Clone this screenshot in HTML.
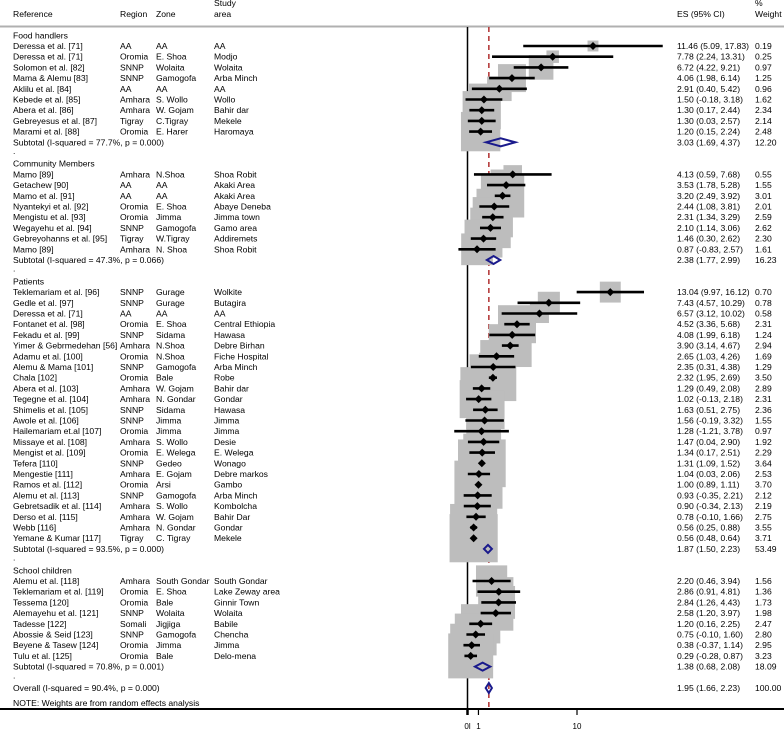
<!DOCTYPE html>
<html><head><meta charset="utf-8"><style>
html,body{margin:0;padding:0;background:#fff;}
svg{display:block;font-family:"Liberation Sans",Arial,sans-serif;font-size:8.6px;}
</style></head><body>
<svg id="plot" width="784" height="731" viewBox="0 0 784 731" xmlns="http://www.w3.org/2000/svg">
<g fill="#000">
<text x="13" y="17">Reference</text>
<text x="120" y="17">Region</text>
<text x="156" y="17">Zone</text>
<text x="214" y="6">Study</text>
<text x="214" y="17">area</text>
<text x="677" y="17">ES (95% CI)</text>
<text x="755" y="6">%</text>
<text x="755" y="17">Weight</text>
</g>
<rect x="0" y="25.5" width="784" height="2" fill="#b0b0b0"/>
<g id="refs"></g>
<g id="boxes"></g>
<g id="marks"></g>
<g id="labels"></g>
<g id="axis"></g>
</svg>
<script>
const NS="http://www.w3.org/2000/svg";
const foodRefs=[["Deressa et al. [71]","AA","AA","AA"],["Deressa et al. [71]","Oromia","E. Shoa","Modjo"],["Solomon et al. [82]","SNNP","Wolaita","Wolaita"],["Mama & Alemu [83]","SNNP","Gamogofa","Arba Minch"],["Aklilu et al. [84]","AA","AA","AA"],["Kebede et al. [85]","Amhara","S. Wollo","Wollo"],["Abera et al. [86]","Amhara","W. Gojam","Bahir dar"],["Gebreyesus et al. [87]","Tigray","C.Tigray","Mekele"],["Marami et al. [88]","Oromia","E. Harer","Haromaya"]];
const foodES=[11.46,7.78,6.72,4.06,2.91,1.50,1.30,1.30,1.20];
const foodLo=[5.09,2.24,4.22,1.98,0.40,-0.18,0.17,0.03,0.15];
const foodHi=[17.83,13.31,9.21,6.14,5.42,3.18,2.44,2.57,2.24];
const foodW=[0.19,0.25,0.97,1.25,0.96,1.62,2.34,2.14,2.48];
const commRefs=[["Mamo [89]","Amhara","N.Shoa","Shoa Robit"],["Getachew [90]","AA","AA","Akaki Area"],["Mamo et al. [91]","AA","AA","Akaki Area"],["Nyantekyi et al. [92]","Oromia","E. Shoa","Abaye Deneba"],["Mengistu et al. [93]","Oromia","Jimma","Jimma town"],["Wegayehu et al. [94]","SNNP","Gamogofa","Gamo area"],["Gebreyohanns et al. [95]","Tigray","W.Tigray","Addiremets"],["Mamo [89]","Amhara","N. Shoa","Shoa Robit"]];
const commES=[4.13,3.53,3.20,2.44,2.31,2.10,1.46,0.87];
const commLo=[0.59,1.78,2.49,1.08,1.34,1.14,0.30,-0.83];
const commHi=[7.68,5.28,3.92,3.81,3.29,3.06,2.62,2.57];
const commW=[0.55,1.55,3.01,2.01,2.59,2.62,2.30,1.61];
const patRefs=[["Teklemariam et al. [96]","SNNP","Gurage","Wolkite"],["Gedle et al. [97]","SNNP","Gurage","Butagira"],["Deressa et al. [71]","AA","AA","AA"],["Fontanet et al. [98]","Oromia","E. Shoa","Central Ethiopia"],["Fekadu et al. [99]","SNNP","Sidama","Hawasa"],["Yimer & Gebrmedehan [56]","Amhara","N.Shoa","Debre Birhan"],["Adamu et al. [100]","Oromia","N.Shoa","Fiche Hospital"],["Alemu & Mama [101]","SNNP","Gamogofa","Arba Minch"],["Chala [102]","Oromia","Bale","Robe"],["Abera et al. [103]","Amhara","W. Gojam","Bahir dar"],["Tegegne et al. [104]","Amhara","N. Gondar","Gondar"],["Shimelis et al. [105]","SNNP","Sidama","Hawasa"],["Awole et al. [106]","SNNP","Jimma","Jimma"],["Hailemariam et.al [107]","Oromia","Jimma","Jimma"],["Missaye et al. [108]","Amhara","S. Wollo","Desie"],["Mengist et al. [109]","Oromia","E. Welega","E. Welega"],["Tefera [110]","SNNP","Gedeo","Wonago"],["Mengestie [111]","Amhara","E. Gojam","Debre markos"],["Ramos et al. [112]","Oromia","Arsi","Gambo"],["Alemu et al. [113]","SNNP","Gamogofa","Arba Minch"],["Gebretsadik et al. [114]","Amhara","S. Wollo","Kombolcha"],["Derso et al. [115]","Amhara","W. Gojam","Bahir Dar"],["Webb [116]","Amhara","N. Gondar","Gondar"],["Yemane & Kumar [117]","Tigray","C. Tigray","Mekele"]];
const patES=[13.04,7.43,6.57,4.52,4.08,3.90,2.65,2.35,2.32,1.29,1.02,1.63,1.56,1.28,1.47,1.34,1.31,1.04,1.00,0.93,0.90,0.78,0.56,0.56];
const patLo=[9.97,4.57,3.12,3.36,1.99,3.14,1.03,0.31,1.95,0.49,-0.13,0.51,-0.19,-1.21,0.04,0.17,1.09,0.03,0.89,-0.35,-0.34,-0.10,0.25,0.48];
const patHi=[16.12,10.29,10.02,5.68,6.18,4.67,4.26,4.38,2.69,2.08,2.18,2.75,3.32,3.78,2.90,2.51,1.52,2.06,1.11,2.21,2.13,1.66,0.88,0.64];
const patW=[0.70,0.78,0.58,2.31,1.24,2.94,1.69,1.29,3.50,2.89,2.31,2.36,1.55,0.97,1.92,2.29,3.64,2.53,3.70,2.12,2.19,2.75,3.55,3.71];
const schRefs=[["Alemu et al. [118]","Amhara","South Gondar","South Gondar"],["Teklemariam et al. [119]","Oromia","E. Shoa","Lake Zeway area"],["Tessema [120]","Oromia","Bale","Ginnir Town"],["Alemayehu et al. [121]","SNNP","Wolaita","Wolaita"],["Tadesse [122]","Somali","Jigjiga","Babile"],["Abossie & Seid [123]","SNNP","Gamogofa","Chencha"],["Beyene & Tasew [124]","Oromia","Jimma","Jimma"],["Tulu et al. [125]","Oromia","Bale","Delo-mena"]];
const schES=[2.20,2.86,2.84,2.58,1.20,0.75,0.38,0.29];
const schLo=[0.46,0.91,1.26,1.20,0.16,-0.10,-0.37,-0.28];
const schHi=[3.94,4.81,4.43,3.97,2.25,1.60,1.14,0.87];
const schW=[1.56,1.36,1.73,1.98,2.47,2.80,2.95,3.23];
const groupNames=["Food handlers","Community Members","Patients","School children"];
const subLabels=["Subtotal  (I-squared = 77.7%, p = 0.000)","Subtotal  (I-squared = 47.3%, p = 0.066)","Subtotal  (I-squared = 93.5%, p = 0.000)","Subtotal  (I-squared = 70.8%, p = 0.001)"];
const subES=[3.03,2.38,1.87,1.38];
const subLo=[1.69,1.77,1.50,0.68];
const subHi=[4.37,2.99,2.23,2.08];
const subW=[12.20,16.23,53.49,18.09];
const overallES=1.95, overallLo=1.66, overallHi=2.23;
const tickVals=[0,1,10];
const tickLabels=["0l","1","10"];

const groups=[[foodRefs,foodES,foodLo,foodHi,foodW],[commRefs,commES,commLo,commHi,commW],[patRefs,patES,patLo,patHi,patW],[schRefs,schES,schLo,schHi,schW]];
const xS=v=>467.5+v*10.95;
const yS=i=>35.3+i*10.7;
const f2=v=>v.toFixed(2);
function el(tag,attrs,parent,txt){const e=document.createElementNS(NS,tag);for(const k in attrs)e.setAttribute(k,attrs[k]);if(txt!==undefined)e.textContent=txt;parent.appendChild(e);return e;}
const refs=document.getElementById('refs'),boxes=document.getElementById('boxes'),marks=document.getElementById('marks'),labels=document.getElementById('labels'),axis=document.getElementById('axis');
const AXY=709;
let l=el('line',{x1:xS(0),x2:xS(0),y1:27,y2:AXY,stroke:'#000','stroke-width':1.5},refs);


l=el('line',{x1:xS(overallES),x2:xS(overallES),y1:27,y2:AXY,stroke:'#b03030','stroke-width':1.5,'stroke-dasharray':'5,4'},refs);


function txt(x,y,s,name){const t=el('text',{x:x,y:y+3},labels,s);return t;}
function diamond(lo,hi,es,y,name,h){const p=el('polygon',{points:`${xS(lo)},${y} ${xS(es)},${y-h} ${xS(hi)},${y} ${xS(es)},${y+h}`,fill:'none',stroke:'#1a1a8c','stroke-width':2},marks);}
let row=0;
groups.forEach((g,gi)=>{
  txt(13,yS(row),groupNames[gi],'group-title');row++;
  g[0].forEach((r,k)=>{
    const y=yS(row);
    txt(13,y,r[0],'study-reference');txt(120,y,r[1],'study-region');txt(156,y,r[2],'study-zone');txt(214,y,r[3],'study-area');
    txt(677,y,`${f2(g[1][k])} (${f2(g[2][k])}, ${f2(g[3][k])})`,'effect-size-ci');
    txt(755,y,f2(g[4][k]),'study-weight');
    const s=25*Math.sqrt(g[4][k]);
    const b=el('rect',{x:xS(g[1][k])-s/2,y:y-s/2,width:s,height:s,fill:'#bdbdbd'},boxes);
    
    
    const c=el('line',{x1:xS(g[2][k]),x2:xS(g[3][k]),y1:y,y2:y,stroke:'#000','stroke-width':2.6},marks);
    
    
    const d=el('polygon',{points:`${xS(g[1][k])-4},${y} ${xS(g[1][k])},${y-4} ${xS(g[1][k])+4},${y} ${xS(g[1][k])},${y+4}`,fill:'#000'},marks);
    
    
    row++;
  });
  const y=yS(row);
  txt(13,y,subLabels[gi],'subtotal-label');
  txt(677,y,`${f2(subES[gi])} (${f2(subLo[gi])}, ${f2(subHi[gi])})`,'subtotal-ci');
  txt(755,y,f2(subW[gi]),'subtotal-weight');
  diamond(subLo[gi],subHi[gi],subES[gi],y,'subtotal-diamond',4);
  row++;
  txt(13,yS(row)-2,'.','spacer-dot');row++;
});
const oy=yS(row-1)+10.7;
txt(13,oy,'Overall  (I-squared = 90.4%, p = 0.000)','overall-label');
txt(677,oy,`${f2(overallES)} (${f2(overallLo)}, ${f2(overallHi)})`,'overall-ci');
txt(755,oy,'100.00','overall-weight');
diamond(overallLo,overallHi,overallES,oy,'overall-diamond',5);
txt(13,oy+15,'NOTE: Weights are from random effects analysis','footnote');
l=el('line',{x1:0,x2:784,y1:AXY,y2:AXY,stroke:'#000','stroke-width':2},axis);


tickVals.forEach((v,i)=>{
  const t=el('line',{x1:xS(v),x2:xS(v),y1:AXY,y2:AXY+6,stroke:'#000','stroke-width':i==0?2.5:1.2},axis);
  
  
  const tl=el('text',{x:xS(v),y:AXY+20,'text-anchor':'middle','font-size':'8'},axis,tickLabels[i]);
  
  
});
</script>
</body></html>
